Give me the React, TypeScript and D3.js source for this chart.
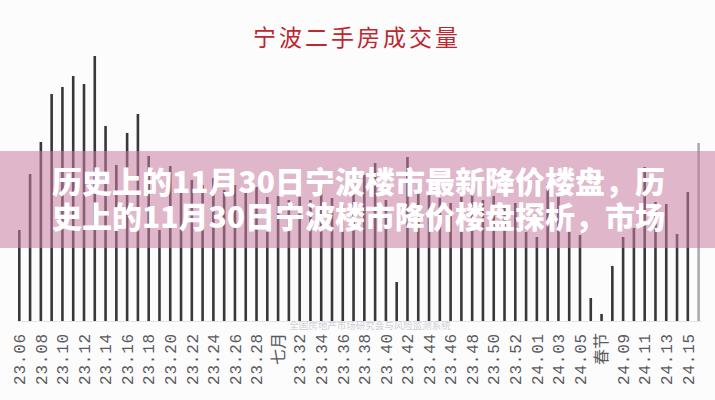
import React, { useEffect, useRef } from "react";
import * as d3 from "d3";

// weekly periods, year.week
const weeks: string[] = [
  "23.06", "23.07", "23.08", "23.09", "23.10", "23.11", "23.12", "23.13",
  "23.14", "23.15", "23.16", "23.17", "23.18", "23.19", "23.20", "23.21",
  "23.22", "23.23", "23.24", "23.25", "23.26", "23.27", "23.28", "23.29",
  "23.30", "23.31", "23.32", "23.33", "23.34", "23.35", "23.36", "23.37",
  "23.38", "23.39", "23.40", "23.41", "23.42", "23.43", "23.44", "23.45",
  "23.46", "23.47", "23.48", "23.49", "23.50", "23.51", "23.52", "23.53",
  "24.01", "24.02", "24.03", "24.04", "24.05", "24.06", "24.07", "24.08",
  "24.09", "24.10", "24.11", "24.12", "24.13", "24.14", "24.15", "24.16",
];

// second-hand transactions per week
const volumes: number[] = [
  910, 1470, 1790, 2270, 2340, 2450, 2370, 2650,
  1950, 1560, 1880, 2070, 1650, 910, 1550, 1490,
  1410, 1360, 1430, 1310, 1360, 1290, 1340, 1240,
  1250, 1210, 1250, 1210, 1330, 1230, 1160, 1360,
  1460, 1580, 1210, 390, 1640, 1380, 1280, 1230,
  1180, 1240, 1310, 1210, 1250, 1160, 1180, 890,
  840, 1370, 1280, 1080, 860, 230, 70, 550,
  840, 930, 1540, 1190, 1170, 870, 1290, 1780,
];

// the last week is still running and drawn in grey
const partialWeek = "24.16";

const tickWeeks: string[] = [
  "23.06", "23.08", "23.10", "23.12", "23.14", "23.16", "23.18", "23.20",
  "23.22", "23.24", "23.26", "23.28", "23.30", "23.32", "23.34", "23.36",
  "23.38", "23.40", "23.42", "23.44", "23.46", "23.48", "23.50", "23.52",
  "24.01", "24.03", "24.05", "24.07", "24.09", "24.11", "24.13", "24.15",
];
const tickNames: Record<string, string> = { "23.30": "七月", "24.07": "春节" };

const title = "宁波二手房成交量";
const bannerLines = [
  "历史上的11月30日宁波楼市最新降价楼盘，历",
  "史上的11月30日宁波楼市降价楼盘探析，市场",
];
const watermark = "全国房地产市场研究会与风险监测系统";

const W = 715,
  H = 400;

const App: React.FC = () => {
  const ref = useRef<SVGSVGElement | null>(null);

  useEffect(() => {
    const svg = d3.select(ref.current);
    svg.selectAll("*").remove();

    const baseY = 321;
    const x = d3.scalePoint<string>().domain(weeks).range([19.3, 698.6]);
    const y = d3.scaleLinear().domain([0, 3000]).range([baseY, 21]);
    const barW = 2.6;

    svg.append("rect").attr("width", W).attr("height", H).attr("fill", "#fcfcfd");

    svg
      .append("text")
      .attr("x", 357)
      .attr("y", 46)
      .attr("text-anchor", "middle")
      .attr("font-family", "'Noto Sans CJK SC', sans-serif")
      .attr("font-size", 23)
      .attr("letter-spacing", 3)
      .attr("fill", "#c0262f")
      .text(title);

    // baseline
    svg
      .append("line")
      .attr("x1", 17)
      .attr("x2", 701)
      .attr("y1", baseY + 0.5)
      .attr("y2", baseY + 0.5)
      .attr("stroke", "#e2e4e8");

    svg
      .append("g")
      .selectAll("rect")
      .data(weeks)
      .enter()
      .append("rect")
      .attr("x", (d) => (x(d) ?? 0) - barW / 2)
      .attr("y", (d, i) => y(volumes[i]))
      .attr("width", barW)
      .attr("height", (d, i) => baseY - y(volumes[i]))
      .attr("fill", (d) => (d === partialWeek ? "#a9abaf" : "#38383b"));

    // tick labels, rotated
    svg
      .append("g")
      .selectAll("text")
      .data(tickWeeks)
      .enter()
      .append("text")
      .attr("transform", (d) => `translate(${x(d)},333) rotate(-90)`)
      .attr("text-anchor", "end")
      .attr("dy", "0.36em")
      .attr("font-family", (d) =>
        tickNames[d] ? "'Noto Sans CJK SC', sans-serif" : "'Liberation Mono', monospace"
      )
      .attr("font-size", 16)
      .attr("letter-spacing", (d) => (tickNames[d] ? 0 : 0.8))
      .attr("fill", "#5a5a5e")
      .text((d) => tickNames[d] ?? d);

    svg
      .append("text")
      .attr("x", 370)
      .attr("y", 329)
      .attr("text-anchor", "middle")
      .attr("font-family", "'Noto Sans CJK SC', sans-serif")
      .attr("font-size", 9.5)
      .attr("fill", "#cfd0d4")
      .text(watermark);

    // pink banner over the chart
    svg
      .append("rect")
      .attr("x", 0)
      .attr("y", 151)
      .attr("width", W)
      .attr("height", 97)
      .attr("fill", "rgb(201,124,160)")
      .attr("fill-opacity", 0.55);

    svg
      .append("g")
      .selectAll("text")
      .data(bannerLines)
      .enter()
      .append("text")
      .attr("x", 52)
      .attr("y", (d, i) => 193 + i * 35)
      .attr("font-family", "'Noto Sans CJK SC', sans-serif")
      .attr("font-weight", 900)
      .attr("font-size", 30)
      .attr("fill", "#ffffff")
      .text((d) => d);
  }, []);

  return (
    <svg
      ref={ref}
      width={W}
      height={H}
      style={{ position: "absolute", left: 0, top: 0, display: "block" }}
    />
  );
};

export default App;
